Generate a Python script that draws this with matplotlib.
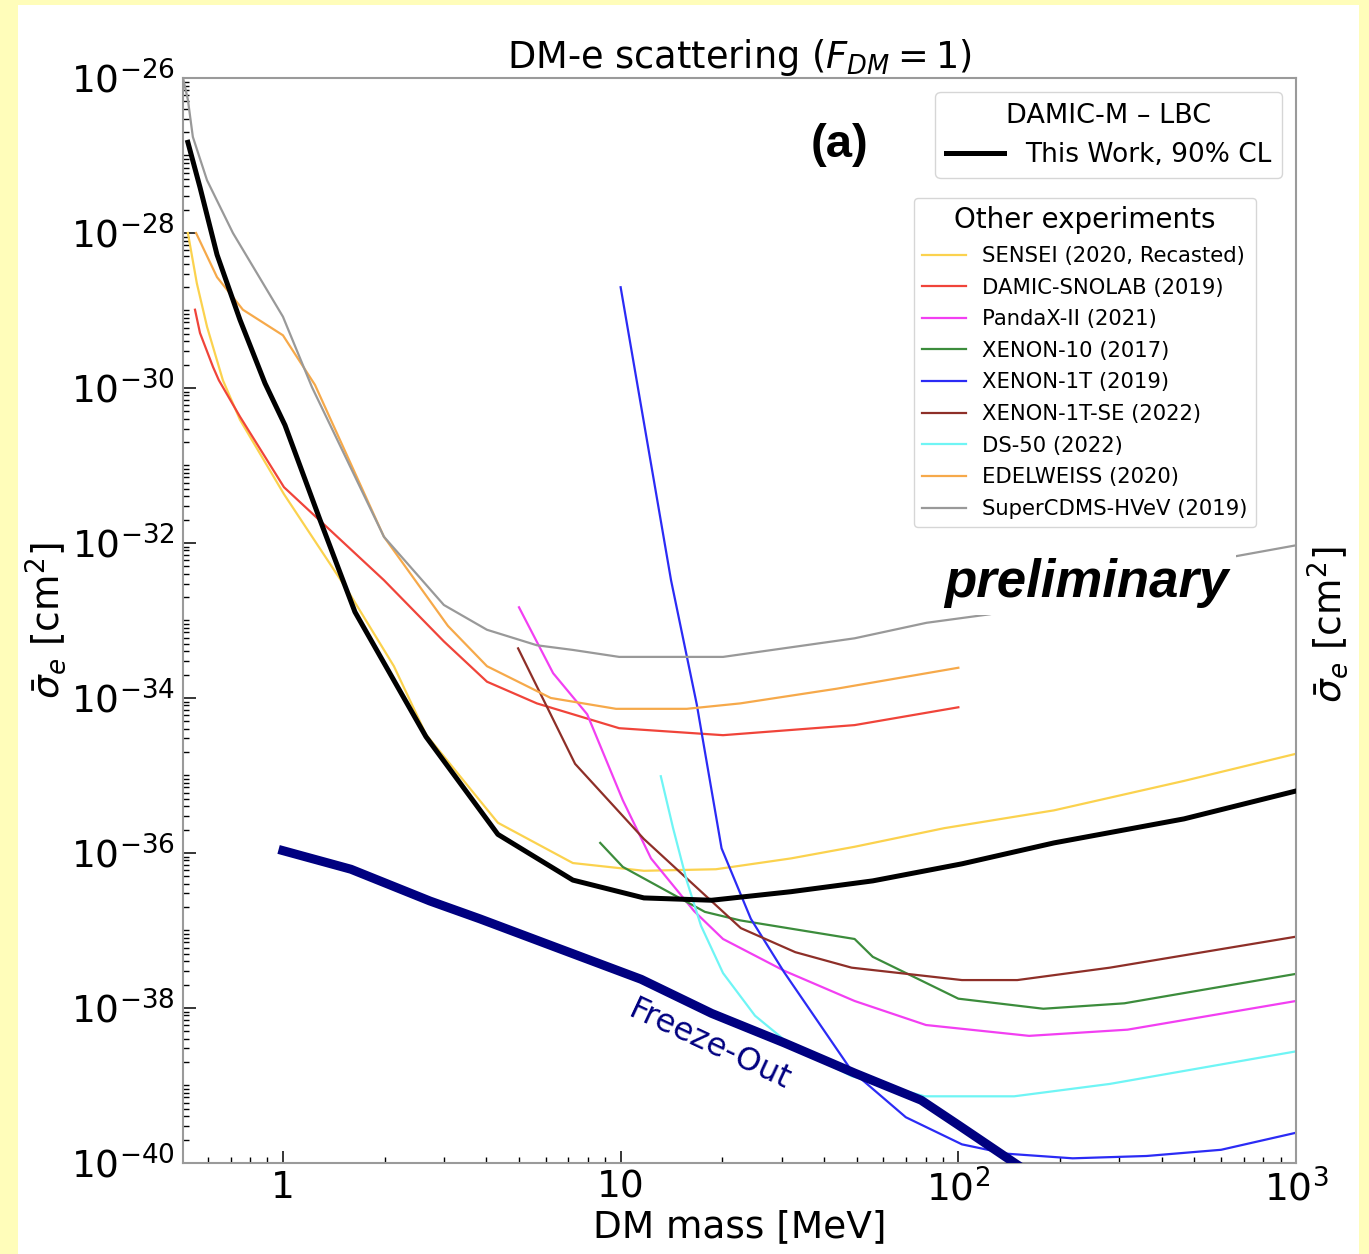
import numpy as np
import matplotlib.pyplot as plt
from matplotlib.patches import Rectangle
from matplotlib.ticker import FixedLocator, LogLocator, FuncFormatter, NullFormatter

# DM mass [MeV] and log10(sigma_e [cm^2]) for each limit curve
this_work_m = [0.523, 0.568, 0.638, 0.746, 0.885, 1.014, 1.287, 1.634, 2.652, 4.33,
               7.22, 11.72, 18.6, 31.9, 55.8, 102.5, 192, 466, 1000]
this_work_s = [-26.83, -27.41, -28.28, -29.12, -29.94, -30.48, -31.70, -32.89, -34.50, -35.76,
               -36.35, -36.58, -36.61, -36.50, -36.36, -36.14, -35.87, -35.56, -35.20]

sensei_m = [0.523, 0.556, 0.596, 0.664, 0.746, 1.007, 1.558, 2.131, 2.652, 4.33,
            7.22, 11.72, 19.15, 31.96, 49.3, 90.8, 192, 466, 1000]
sensei_s = [-28.0, -28.65, -29.21, -29.90, -30.41, -31.37, -32.62, -33.59, -34.47, -35.61,
            -36.13, -36.23, -36.21, -36.07, -35.92, -35.68, -35.45, -35.07, -34.72]

snolab_m = [0.549, 0.568, 0.621, 0.646, 0.746, 1.007, 1.991, 2.996, 4.02, 5.65, 9.9, 20.1, 49.3, 100]
snolab_s = [-28.99, -29.29, -29.73, -29.90, -30.37, -31.28, -32.48, -33.27, -33.79, -34.07,
            -34.39, -34.48, -34.35, -34.12]

pandax_m = [5.0, 6.31, 7.96, 10.15, 12.3, 16.5, 20.1, 30.5, 49.3, 80.2, 162, 317, 1000]
pandax_s = [-32.83, -33.68, -34.21, -35.32, -36.07, -36.75, -37.11, -37.52, -37.91, -38.22,
            -38.36, -38.28, -37.91]

xenon10_m = [8.70, 10.15, 17.76, 22.6, 49.3, 55.8, 100, 178.5, 310, 1000]
xenon10_s = [-35.87, -36.18, -36.76, -36.87, -37.11, -37.34, -37.88, -38.01, -37.94, -37.56]

xenon1t_m = [10, 14.1, 16.8, 19.9, 24.3, 30.5, 48.3, 69.9, 102.5, 138.6, 218, 361, 600, 1000]
xenon1t_s = [-28.70, -32.48, -34.08, -35.94, -36.85, -37.54, -38.81, -39.41, -39.76, -39.88,
             -39.94, -39.91, -39.83, -39.61]

xenon1tse_m = [4.97, 7.33, 11.72, 22.7, 32.9, 48.3, 102.5, 149.5, 281, 1000]
xenon1tse_s = [-33.36, -34.85, -35.82, -36.97, -37.28, -37.48, -37.64, -37.64, -37.48, -37.08]

ds50_m = [13.15, 14.3, 15.7, 17.3, 20.1, 25.0, 31.9, 48.3, 79.5, 146.3, 281, 1000]
ds50_s = [-35.01, -35.68, -36.36, -36.94, -37.55, -38.10, -38.48, -38.88, -39.14, -39.14,
          -38.98, -38.56]

edelweiss_m = [0.553, 0.638, 0.761, 1.0, 1.244, 1.991, 3.08, 4.02, 6.21, 9.69, 15.7, 22.6, 43.7, 100]
edelweiss_s = [-28.0, -28.57, -28.99, -29.32, -29.96, -31.92, -33.07, -33.59, -34.0, -34.14,
               -34.14, -34.07, -33.88, -33.61]

supercdms_m = [0.506, 0.523, 0.541, 0.596, 0.711, 1.0, 1.219, 1.991, 2.996, 4.02, 5.65, 7.22,
               9.9, 20.1, 49.3, 80.5, 123.8, 627, 1000]
supercdms_s = [-26.0, -26.28, -26.76, -27.32, -28.0, -29.08, -29.99, -31.92, -32.8, -33.12,
               -33.32, -33.38, -33.47, -33.47, -33.23, -33.03, -32.92, -32.19, -32.03]

freezeout_m = [1.0, 1.59, 2.725, 3.83, 7.02, 11.5, 18.6, 30.5, 49.3, 77.6, 100, 187]
freezeout_s = [-35.97, -36.21, -36.62, -36.85, -37.28, -37.63, -38.07, -38.45, -38.84, -39.19,
               -39.51, -40.31]

others = [
    ('SENSEI (2020, Recasted)', sensei_m, sensei_s, '#fbd24e'),
    ('DAMIC-SNOLAB (2019)', snolab_m, snolab_s, '#f0443a'),
    ('PandaX-II (2021)', pandax_m, pandax_s, '#f23ff2'),
    ('XENON-10 (2017)', xenon10_m, xenon10_s, '#3c8c3c'),
    ('XENON-1T (2019)', xenon1t_m, xenon1t_s, '#2b2bf5'),
    ('XENON-1T-SE (2022)', xenon1tse_m, xenon1tse_s, '#8e2f28'),
    ('DS-50 (2022)', ds50_m, ds50_s, '#6ff5f5'),
    ('EDELWEISS (2020)', edelweiss_m, edelweiss_s, '#f6a94a'),
    ('SuperCDMS-HVeV (2019)', supercdms_m, supercdms_s, '#999999'),
]

fig = plt.figure(figsize=(13.69, 12.54), dpi=100, facecolor='#fffdba')
fig.patches.append(Rectangle((0.0131, 0.0), 0.9796, 0.996, transform=fig.transFigure,
                             facecolor='white', edgecolor='none', zorder=-1))
ax = fig.add_axes([0.1337, 0.0726, 0.8130, 0.8652])

handles = []
for name, m, s, c in others:
    h, = ax.plot(m, 10.0 ** np.array(s), color=c, lw=1.6, label=name)
    handles.append(h)

ax.plot(freezeout_m, 10.0 ** np.array(freezeout_s), color='#000080', lw=6.5, zorder=3)
h_this, = ax.plot(this_work_m, 10.0 ** np.array(this_work_s), color='black', lw=3.6,
                  zorder=4, label='This Work, 90% CL')

ax.set_xscale('log')
ax.set_yscale('log')
ax.set_xlim(0.506, 1000)
ax.set_ylim(1e-40, 1e-26)

ax.xaxis.set_major_locator(FixedLocator([1, 10, 100, 1000]))
ax.xaxis.set_major_formatter(FuncFormatter(
    lambda v, _: {1: '1', 10: '10', 100: r'$10^2$', 1000: r'$10^3$'}.get(int(round(v)), '')))
ax.xaxis.set_minor_locator(LogLocator(base=10, subs=np.arange(2, 10), numticks=20))
ax.xaxis.set_minor_formatter(NullFormatter())

ax.yaxis.set_major_locator(FixedLocator(10.0 ** np.arange(-40, -25, 2)))
ax.yaxis.set_major_formatter(FuncFormatter(lambda v, _: r'$10^{%d}$' % round(np.log10(v))))
ax.yaxis.set_minor_locator(LogLocator(base=10, subs=np.arange(1, 10), numticks=60))
ax.yaxis.set_minor_formatter(NullFormatter())

ax.tick_params(which='both', direction='in', top=False, right=False, colors='black')
ax.tick_params(which='major', length=9, width=1.1, labelsize=27)
ax.tick_params(axis='y', which='major', pad=6)
ax.tick_params(axis='x', which='major', pad=5)
ax.tick_params(which='minor', length=4.5, width=1.0)
for sp in ax.spines.values():
    sp.set_color('#9a9a9a')
    sp.set_linewidth(1.5)

ax.set_title(r'DM-e scattering ($F_{DM} = 1$)', fontsize=26.5, pad=4)
ax.set_xlabel('DM mass [MeV]', fontsize=27, labelpad=0)
ax.set_ylabel(r'$\bar{\sigma}_e$ [cm$^2$]', fontsize=27, labelpad=2)
ax.text(1.0287, 0.496, r'$\bar{\sigma}_e$ [cm$^2$]', fontsize=27, rotation=90,
        ha='center', va='center', transform=ax.transAxes)

ax.text(44.6, 10 ** -26.865, '(a)', fontsize=34, fontweight='bold', family='Liberation Sans',
        ha='center', va='center')
ax.text(240, 10 ** -32.52, 'preliminary', fontsize=38, fontweight='bold', fontstyle='italic',
        family='Liberation Sans', ha='center', va='center', zorder=5,
        bbox=dict(facecolor='white', edgecolor='none', pad=5))
ax.text(18.4, 10 ** -38.48, 'Freeze-Out', color='#000080', fontsize=23, rotation=-25,
        ha='center', va='center', rotation_mode='anchor')

leg1 = ax.legend(handles=[h_this], title='DAMIC-M \u2013 LBC', loc='upper right',
                 bbox_to_anchor=(0.9874, 0.9871), borderaxespad=0, fontsize=19,
                 title_fontsize=19.5, handlelength=2.2)
ax.add_artist(leg1)
ax.legend(handles=handles, title='Other experiments', loc='upper right',
          bbox_to_anchor=(0.9641, 0.8894), borderaxespad=0, fontsize=15.2,
          title_fontsize=20, labelspacing=0.55, handlelength=2.1, handletextpad=0.75)

fig.savefig('out.png', dpi=100, facecolor=fig.get_facecolor())
